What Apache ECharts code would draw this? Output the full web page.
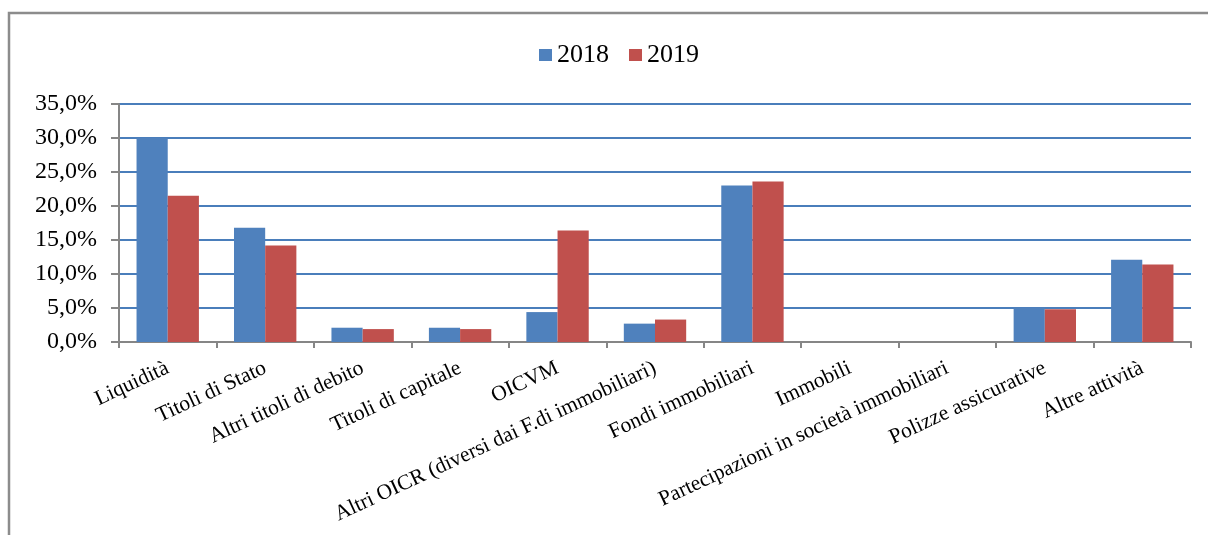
<!DOCTYPE html>
<html>
<head>
<meta charset="utf-8">
<title>Composizione attività 2018-2019</title>
<script src="https://cdn.jsdelivr.net/npm/echarts@6/dist/echarts.min.js"></script>
<style>
  html, body { margin: 0; padding: 0; background: #ffffff; }
  #chart { width: 1208px; height: 535px; }
</style>
</head>
<body>
<div id="chart"></div>
<script>
// Asset categories along the x axis
const categories = [
  'Liquidità',
  'Titoli di Stato',
  'Altri titoli di debito',
  'Titoli di capitale',
  'OICVM',
  'Altri OICR (diversi dai F.di immobiliari)',
  'Fondi immobiliari',
  'Immobili',
  'Partecipazioni in società immobiliari',
  'Polizze assicurative',
  'Altre attività'
];

// Share of total assets, in percent
const values2018 = [30.0, 16.8, 2.1, 2.1, 4.4, 2.7, 23.0, 0, 0, 5.1, 12.1];
const values2019 = [21.5, 14.2, 1.9, 1.9, 16.4, 3.3, 23.6, 0, 0, 4.8, 11.4];

const seriesNames = ['2018', '2019'];

// Y axis range and step
const yMin = 0;
const yMax = 35;
const yStep = 5;

const serif = '"Liberation Serif", "Times New Roman", serif';
const blue = '#4F81BD';
const red = '#C0504D';
const axisGray = '#868686';

const chart = echarts.init(document.getElementById('chart'), null, { renderer: 'canvas' });

chart.setOption({
  backgroundColor: '#ffffff',
  animation: false,
  graphic: [{
    type: 'rect',
    shape: { x: 9, y: 13, width: 1400, height: 700 },
    style: { fill: 'none', stroke: '#8c8c8c', lineWidth: 2.5 },
    silent: true,
    z: 0
  }],
  legend: {
    data: seriesNames,
    top: 37,
    left: 534,
    itemWidth: 13,
    itemHeight: 12,
    itemGap: 20,
    icon: 'rect',
    textStyle: { fontFamily: serif, fontSize: 26, color: '#000' }
  },
  grid: {
    left: 119,
    right: 17,
    top: 104,
    bottom: 193,
    containLabel: false
  },
  xAxis: {
    type: 'category',
    data: categories,
    boundaryGap: true,
    axisLine: { show: true, lineStyle: { color: axisGray, width: 2 } },
    axisTick: { show: true, length: 6, lineStyle: { color: axisGray, width: 2 } },
    axisLabel: {
      interval: 0,
      rotate: 25,
      margin: 25,
      fontFamily: serif,
      fontSize: 21.5,
      color: '#000'
    },
    splitLine: { show: false }
  },
  yAxis: {
    type: 'value',
    min: yMin,
    max: yMax,
    interval: yStep,
    axisLine: { show: true, lineStyle: { color: axisGray, width: 2 } },
    axisTick: { show: true, length: 8, lineStyle: { color: axisGray, width: 2 } },
    axisLabel: {
      margin: 22,
      fontFamily: serif,
      fontSize: 24,
      color: '#000',
      formatter: v => v.toFixed(1).replace('.', ',') + '%'
    },
    splitLine: { show: true, lineStyle: { color: '#4A7EBB', width: 2 } }
  },
  series: [
    {
      name: seriesNames[0],
      type: 'bar',
      data: values2018,
      itemStyle: { color: blue },
      barGap: '0%',
      barCategoryGap: '36%'
    },
    {
      name: seriesNames[1],
      type: 'bar',
      data: values2019,
      itemStyle: { color: red },
      barGap: '0%',
      barCategoryGap: '36%'
    }
  ]
});
</script>
</body>
</html>
